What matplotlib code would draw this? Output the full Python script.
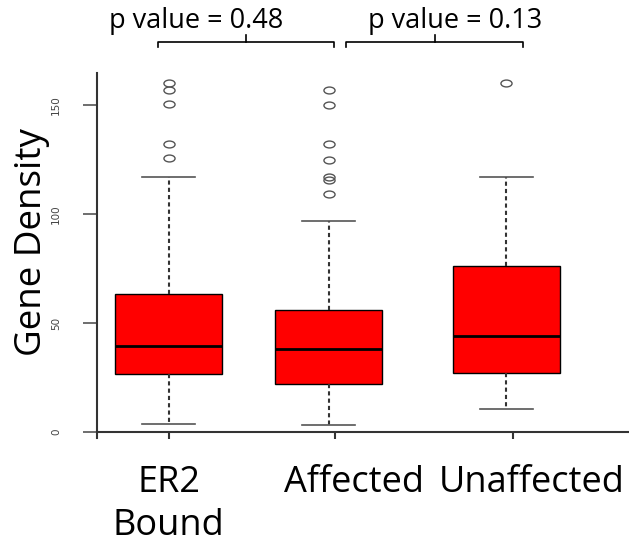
import matplotlib
matplotlib.use('Agg')
import matplotlib.pyplot as plt
import matplotlib.transforms as mtransforms
from matplotlib.markers import MarkerStyle

# box statistics
categories = ['ER2\nBound', 'Affected', 'Unaffected']
positions = [1.0, 2.0, 3.11]
tick_x = [1.0, 2.04, 3.15]
label_x = [1.0, 2.16, 3.27]
q1 = [26.5, 22, 27]
medians = [39.3, 38, 44]
q3 = [63.3, 56, 76]
whisker_low = [3.7, 3, 10.5]
whisker_high = [117, 97, 117]
outliers = [[125.5, 132, 150.5, 157, 160],
            [109, 115.5, 117, 125, 132, 150, 157],
            [160]]
p_labels = ['p value = 0.48', 'p value = 0.13']
p_label_x = [1.175, 2.794]
brackets = [(0.934, 2.034), (2.109, 3.216)]

stats = []
for i in range(len(categories)):
    stats.append({'med': medians[i], 'q1': q1[i], 'q3': q3[i],
                  'whislo': whisker_low[i], 'whishi': whisker_high[i],
                  'fliers': outliers[i]})

# flattened circle for the outliers (the original picture is stretched)
flat_o = MarkerStyle('o', fillstyle='none',
                     transform=mtransforms.Affine2D().scale(1.0, 0.62))

fig = plt.figure(figsize=(6.29, 5.46), dpi=100)
ax = fig.add_axes([0.1542, 0.1978, 0.8458, 0.6685])

ax.bxp(stats, positions=positions, widths=0.67, patch_artist=True,
       boxprops=dict(facecolor='#ff0000', edgecolor='black', linewidth=1),
       medianprops=dict(color='black', linewidth=2),
       whiskerprops=dict(color='#333333', linewidth=1.5, linestyle=(0, (2, 1.5))),
       capprops=dict(color='#555555', linewidth=1.2),
       capwidths=0.33,
       flierprops=dict(marker=flat_o, markersize=8, markerfacecolor='none',
                       markeredgecolor='#555555', markeredgewidth=1))

ax.set_xlim(0.553, 3.878)
ax.set_ylim(-2.8, 164.7)
ax.spines['top'].set_visible(False)
ax.spines['right'].set_visible(False)
ax.spines['bottom'].set_position(('data', 0))
for side in ['left', 'bottom']:
    ax.spines[side].set_linewidth(1.5)
    ax.spines[side].set_color('#333333')

ax.set_yticks([0, 50, 100, 150])
ax.set_yticklabels(['0', '50', '100', '150'], rotation=90, va='center',
                   fontsize=7.5, color='#444444')
ax.tick_params(axis='y', length=10, width=1.2, color='#555555', pad=16)
ax.set_xticks(tick_x)
ax.set_xticklabels([])
ax.tick_params(axis='x', length=5, width=1.5, color='#333333')

ax.set_ylabel('Gene Density', fontfamily='Open Sans', fontsize=26.5)
ax.yaxis.set_label_coords(-0.089, 0.536)

trans = mtransforms.blended_transform_factory(ax.transData, ax.transAxes)
for x, name in zip(label_x, categories):
    ax.text(x, -0.075, name, transform=trans, ha='center', va='top',
            fontfamily='Open Sans', fontsize=26, linespacing=1.25)

# significance brackets above the plot
for (x0, x1), tx, lab in zip(brackets, p_label_x, p_labels):
    xm = (x0 + x1) / 2
    ax.plot([x0, x0, x1, x1], [176.6, 178.9, 178.9, 176.6], color='black', lw=1.2, clip_on=False)
    ax.plot([xm, xm], [178.9, 182], color='black', lw=1.2, clip_on=False)
    ax.text(tx, 185.3, lab, ha='center', va='baseline',
            fontfamily='Open Sans', fontsize=19.5)

plt.savefig('out.png', dpi=100)
